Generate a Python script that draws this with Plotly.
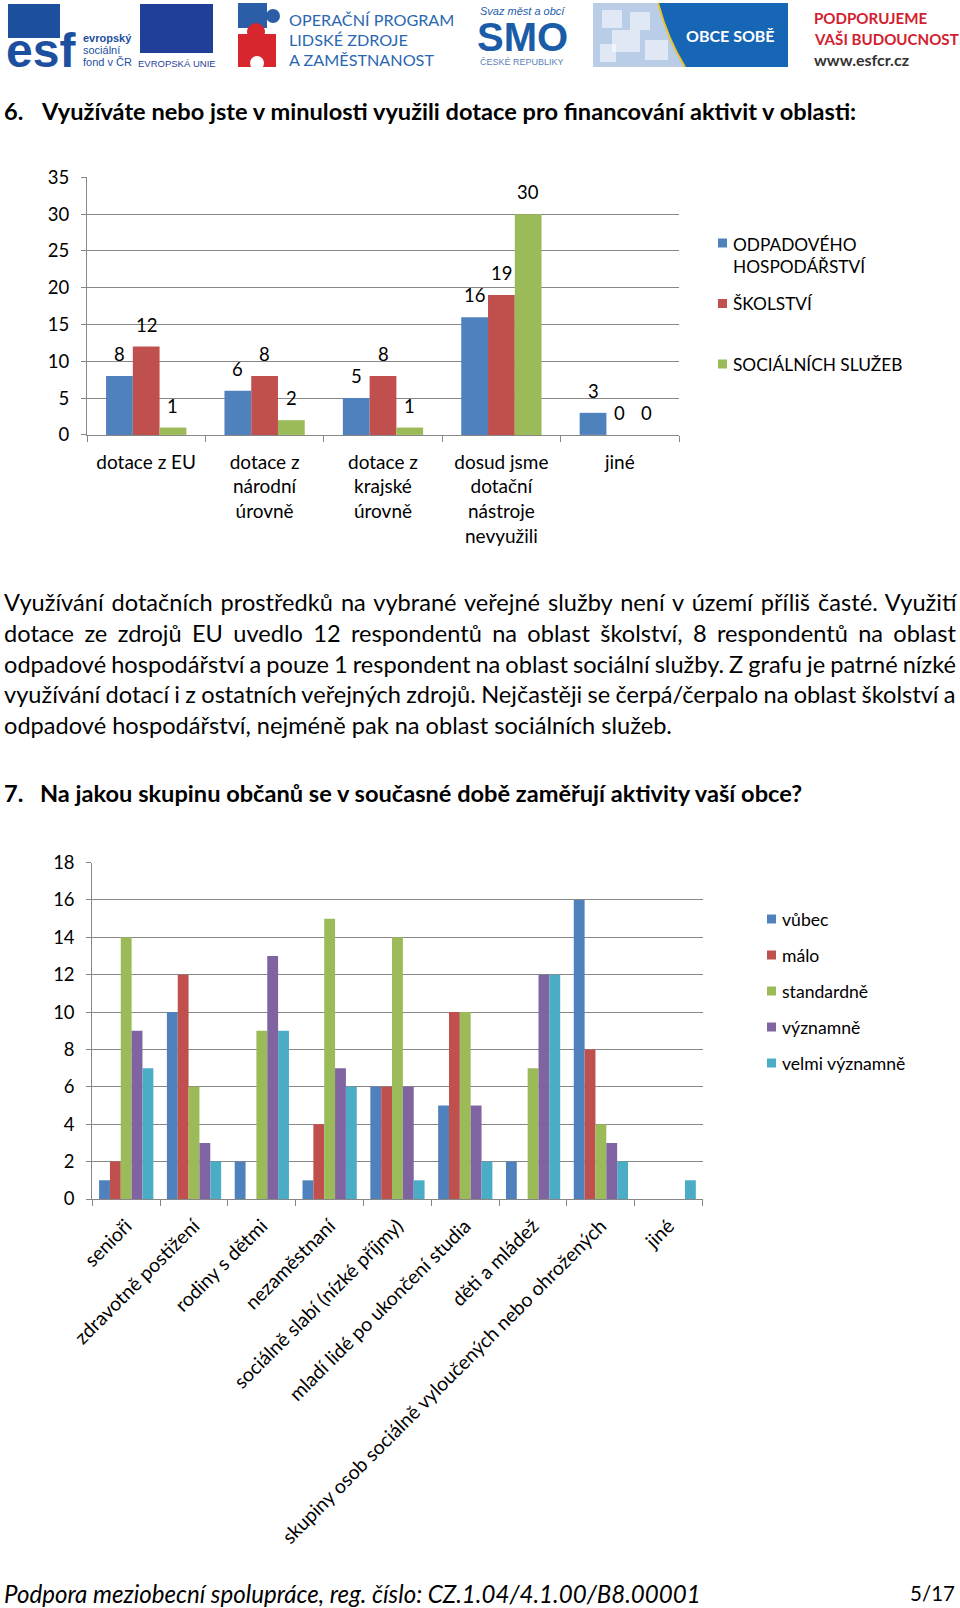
import math
import plotly.graph_objects as go

W, H = 960, 1608
FONT = "Lato"

# ---------------- Chart 1 data ----------------
c1_categories = ["dotace z EU", "dotace z národní úrovně", "dotace z krajské úrovně",
                 "dosud jsme dotační nástroje nevyužili", "jiné"]
c1_tick_labels = ["dotace z EU", "dotace z<br>národní<br>úrovně", "dotace z<br>krajské<br>úrovně",
                  "dosud jsme<br>dotační<br>nástroje<br>nevyužili", "jiné"]
c1_series = ["ODPADOVÉHO HOSPODÁŘSTVÍ", "ŠKOLSTVÍ", "SOCIÁLNÍCH SLUŽEB"]
c1_legend_labels = ["ODPADOVÉHO<br>HOSPODÁŘSTVÍ", "ŠKOLSTVÍ", "SOCIÁLNÍCH SLUŽEB"]
c1_odpad = [8, 6, 5, 16, 3]
c1_skolstvi = [12, 8, 8, 19, 0]
c1_social = [1, 2, 1, 30, 0]
c1_yticks = [0, 5, 10, 15, 20, 25, 30, 35]

# ---------------- Chart 2 data ----------------
c2_categories = ["senioři", "zdravotně postižení", "rodiny s dětmi", "nezaměstnaní",
                 "sociálně slabí (nízké příjmy)", "mladí lidé po ukončení studia",
                 "děti a mládež", "skupiny osob sociálně vyloučených nebo ohrožených", "jiné"]
c2_series = ["vůbec", "málo", "standardně", "významně", "velmi významně"]
c2_vubec = [1, 10, 2, 1, 6, 5, 2, 16, 0]
c2_malo = [2, 12, 0, 4, 6, 10, 0, 8, 0]
c2_standardne = [14, 6, 9, 15, 14, 10, 7, 4, 0]
c2_vyznamne = [9, 3, 13, 7, 6, 5, 12, 3, 0]
c2_velmi = [7, 2, 9, 6, 1, 2, 12, 2, 1]
c2_yticks = [0, 2, 4, 6, 8, 10, 12, 14, 16, 18]

COLORS = ["#4F81BD", "#C0504D", "#9BBB59", "#8064A2", "#4BACC6"]
GRID = "#878787"

# ---------------- texts ----------------
heading6_num = "6."
heading6 = "Využíváte nebo jste v minulosti využili dotace pro financování aktivit v oblasti:"
heading7_num = "7."
heading7 = "Na jakou skupinu občanů se v současné době zaměřují aktivity vaší obce?"
paragraph_lines = [
    "Využívání dotačních prostředků na vybrané veřejné služby není v území příliš časté. Využití",
    "dotace ze zdrojů EU uvedlo 12 respondentů na oblast školství, 8 respondentů na oblast",
    "odpadové hospodářství a pouze 1 respondent na oblast sociální služby. Z grafu je patrné nízké",
    "využívání dotací i z ostatních veřejných zdrojů. Nejčastěji se čerpá/čerpalo na oblast školství a",
    "odpadové hospodářství, nejméně pak na oblast sociálních služeb.",
]
paragraph_wordspacing = [1.95, 4.3, -1.0, -0.75, 0.0]
footer_left = "Podpora meziobecní spolupráce, reg. číslo: CZ.1.04/4.1.00/B8.00001"
footer_right = "5/17"

# ---------------- layout geometry (pixels) ----------------
c1_left, c1_right, c1_top, c1_bottom = 87, 679, 177.4, 434.9
c2_left, c2_right, c2_top, c2_bottom = 92.3, 702.6, 862.6, 1199

def xdom(a, b):
    return [a / W, b / W]

def ydom(top, bottom):
    return [1 - bottom / H, 1 - top / H]

fig = go.Figure()

# chart 1 bars
c1_vals = [c1_odpad, c1_skolstvi, c1_social]
w1 = 0.226
for j, (name, vals) in enumerate(zip(c1_series, c1_vals)):
    fig.add_trace(go.Bar(x=c1_categories, y=vals, name=name, marker_color=COLORS[j],
                         marker_line_width=0, width=w1, offset=-1.5 * w1 + j * w1,
                         xaxis="x", yaxis="y", showlegend=False))

# chart 2 bars
c2_vals = [c2_vubec, c2_malo, c2_standardne, c2_vyznamne, c2_velmi]
w2 = 0.16
for j, (name, vals) in enumerate(zip(c2_series, c2_vals)):
    fig.add_trace(go.Bar(x=c2_categories, y=vals, name=name, marker_color=COLORS[j],
                         marker_line_width=0, width=w2, offset=-2.5 * w2 + j * w2,
                         xaxis="x2", yaxis="y2", showlegend=False))

annotations = []
shapes = []

# chart 1 data labels
cat1_px = (c1_right - c1_left) / len(c1_categories)
for j, vals in enumerate(c1_vals):
    for cat, v in zip(c1_categories, vals):
        annotations.append(dict(x=cat, y=v, xref="x", yref="y", text=str(v), showarrow=False,
                                xshift=(j - 1) * w1 * cat1_px, yshift=22, yanchor="middle",
                                font=dict(size=18.5, color="#000", family=FONT)))

# ----- page overlay axis for header / text (pixel coords) -----
def T(x, y, text, size, color="#000", anchor="left", bold=False, italic=False, family=FONT, yanchor="middle"):
    if bold:
        text = "<b>" + text + "</b>"
    if italic:
        text = "<i>" + text + "</i>"
    annotations.append(dict(x=x, y=y, xref="x3", yref="y3", text=text, showarrow=False,
                            xanchor=anchor, yanchor=yanchor, borderpad=0, align="left",
                            font=dict(size=size, color=color, family=family)))

def R(x0, y0, x1, y1, fill, line=None, lw=0, layer="above"):
    shapes.append(dict(type="rect", x0=x0, y0=y0, x1=x1, y1=y1, xref="x3", yref="y3",
                       fillcolor=fill, line=dict(width=lw, color=line or fill), layer=layer))

def C(cx, cy, r, fill):
    shapes.append(dict(type="circle", x0=cx - r, y0=cy - r, x1=cx + r, y1=cy + r, xref="x3", yref="y3",
                       fillcolor=fill, line=dict(width=0), layer="above"))

def P(path, fill, line=None, lw=0):
    shapes.append(dict(type="path", path=path, xref="x3", yref="y3", fillcolor=fill,
                       line=dict(width=lw, color=line or fill), layer="above"))

# --- header: ESF logo
ESF_BLUE = "#1d4f9f"
R(8, 4, 60, 38, ESF_BLUE)
T(5, 50, "esf", 48, ESF_BLUE, bold=True, family="Liberation Sans")
T(82, 38, "evropský", 11, ESF_BLUE, bold=True, family="Liberation Sans")
T(82, 50, "sociální", 11, ESF_BLUE, family="Liberation Sans")
T(82, 62, "fond v ČR", 11, ESF_BLUE, family="Liberation Sans")
star_x = [30, 38, 49, 57]
star_y = [25, 14, 9, 6]
star_s = [15, 10, 8, 5]
fig.add_trace(go.Scatter(x=star_x, y=star_y, mode="markers", xaxis="x3", yaxis="y3",
                         marker=dict(symbol="star", size=star_s, color="#f7e000", line_width=0),
                         showlegend=False, hoverinfo="skip"))
# EU flag
EU_BLUE = "#1f3f99"
R(140, 4, 213, 53, EU_BLUE)
eu_x = [176.5 + 15 * math.cos(k * math.pi / 6) for k in range(12)]
eu_y = [28.5 + 15 * math.sin(k * math.pi / 6) for k in range(12)]
fig.add_trace(go.Scatter(x=eu_x, y=eu_y, mode="markers", xaxis="x3", yaxis="y3",
                         marker=dict(symbol="star", size=5, color="#ffe000", line_width=0),
                         showlegend=False, hoverinfo="skip"))
T(176.5, 63, "EVROPSKÁ UNIE", 9.5, EU_BLUE, anchor="center", family="Liberation Sans")

# OP LZZ
OP_BLUE = "#2a67b1"
OP_RED = "#d7262d"
R(238, 3, 267, 28, "#2c5ea8")
C(273, 16, 7, "#2c5ea8")
R(238, 34, 276, 67, OP_RED)
C(256, 32, 9, OP_RED)
C(257, 63, 7, "#ffffff")
T(288, 19, "OPERAČNÍ PROGRAM", 16.2, OP_BLUE)
T(288, 39, "LIDSKÉ ZDROJE", 16.2, OP_BLUE)
T(288, 59, "A ZAMĚSTNANOST", 16.2, OP_BLUE)

# SMO
SMO_BLUE = "#1b5ca8"
T(522, 11, "Svaz měst a obcí", 11, SMO_BLUE, anchor="center", italic=True, family="Liberation Sans")
T(522, 37, "SMO", 40, SMO_BLUE, anchor="center", bold=True, family="Liberation Sans")
T(522, 62, "ČESKÉ REPUBLIKY", 9, "#5d83b9", anchor="center", family="Liberation Sans")

# OBCE SOBĚ
R(593, 3, 788, 67, "#1766b5")
P("M 593 3 L 658 3 Q 668 40 685 67 L 593 67 Z", "#b9cde6")
P("M 658 3 Q 668 40 685 67", "rgba(0,0,0,0)", line="#e9c330", lw=2)
for (x0, y0, x1, y1) in [(602, 10, 622, 28), (612, 30, 640, 52), (630, 12, 650, 30), (645, 40, 668, 60), (600, 44, 616, 62)]:
    R(x0, y0, x1, y1, "rgba(255,255,255,0.55)")
T(730, 35, "OBCE SOBĚ", 16, "#ffffff", anchor="center", bold=True)

# PODPORUJEME
T(813, 18, "PODPORUJEME", 15.1, "#d3202f", bold=True)
T(813, 39, "VAŠI BUDOUCNOST", 15.1, "#d3202f", bold=True)
T(813, 59.5, "www.esfcr.cz", 16, "#333333", bold=True)

# headings
T(3, 111, heading6_num, 23.6, bold=True)
T(40, 111, heading6, 23.6, bold=True)
T(3, 793, heading7_num, 23.6, bold=True)
T(39, 793, heading7, 23.6, bold=True)

# paragraph
para_y = [602, 633, 663.5, 694, 725]
for line, ws, y in zip(paragraph_lines, paragraph_wordspacing, para_y):
    T(3, y, '<span style="word-spacing:%.2fpx">%s</span>' % (ws, line), 23.6)

# footer
T(3, 1593, footer_left, 24.1, italic=True)
T(956, 1593, footer_right, 20.5, anchor="right")

# chart 1 legend
leg1_y = [243, 303.5, 364]
leg1_text_y = [255.5, 303.5, 364]
for j, (lab, y, ty) in enumerate(zip(c1_legend_labels, leg1_y, leg1_text_y)):
    R(718, y - 4.5, 727, y + 4.5, COLORS[j])
    T(732, ty, lab, 17.3, "#000")

# chart 2 legend
leg2_y = [919, 955, 991, 1027, 1063]
for j, (lab, y) in enumerate(zip(c2_series, leg2_y)):
    R(767, y - 4.5, 776, y + 4.5, COLORS[j])
    T(781, y, lab, 17.6, "#000")

axis_common = dict(showline=True, linecolor=GRID, linewidth=1, ticks="outside",
                   tickcolor=GRID, automargin=False)
yfont = dict(size=18.5, color="#000", family=FONT)

fig.update_layout(
    width=W, height=H, margin=dict(l=0, r=0, t=0, b=0, pad=0),
    paper_bgcolor="white", plot_bgcolor="rgba(0,0,0,0)",
    font=dict(family=FONT, color="#000"),
    barmode="overlay", showlegend=False,
    annotations=annotations, shapes=shapes,
    xaxis=dict(domain=xdom(c1_left, c1_right), anchor="y", type="category",
               range=[-0.5, len(c1_categories) - 0.5], tickson="boundaries", ticklen=6,
               tickvals=c1_categories, ticktext=c1_tick_labels, showgrid=False,
               ticklabelstandoff=10, tickfont=dict(size=19, color="#000", family=FONT),
               **axis_common),
    yaxis=dict(domain=ydom(c1_top, c1_bottom), anchor="x", range=[0, 35], tickvals=c1_yticks,
               showgrid=True, gridcolor=GRID, gridwidth=1, zeroline=False, ticklen=5,
               ticklabelstandoff=8, tickfont=yfont, **axis_common),
    xaxis2=dict(domain=xdom(c2_left, c2_right), anchor="y2", type="category",
                range=[-0.5, len(c2_categories) - 0.5], tickson="boundaries", ticklen=6,
                tickangle=-45, showgrid=False, ticklabelstandoff=7,
                tickfont=dict(size=19.5, color="#000", family=FONT), **axis_common),
    yaxis2=dict(domain=ydom(c2_top, c2_bottom), anchor="x2", range=[0, 18], tickvals=c2_yticks,
                showgrid=True, gridcolor=GRID, gridwidth=1, zeroline=False, ticklen=5,
                ticklabelstandoff=8, tickfont=yfont, **axis_common),
    xaxis3=dict(domain=[0, 1], range=[0, W], visible=False, anchor="y3", fixedrange=True),
    yaxis3=dict(domain=[0, 1], range=[H, 0], visible=False, anchor="x3", fixedrange=True),
)

fig.write_html("out.html",
               post_script="document.body.style.margin='0px';document.body.style.padding='0px';")
